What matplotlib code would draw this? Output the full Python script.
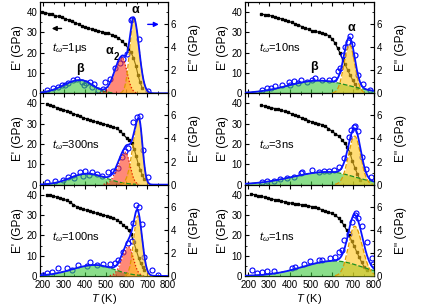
import numpy as np
import matplotlib.pyplot as plt
from matplotlib.ticker import MultipleLocator

plt.rcParams['font.family'] = ['Liberation Sans', 'DejaVu Sans']
plt.rcParams['mathtext.fontset'] = 'custom'
plt.rcParams['mathtext.rm'] = 'Liberation Sans'
plt.rcParams['mathtext.it'] = 'Liberation Sans:italic'
plt.rcParams['mathtext.bf'] = 'Liberation Sans:bold'

labels = ['1μs', '10ns', '300ns', '3ns', '100ns', '1ns']

# storage modulus E' (left axis)
T_e1_1us = [195, 210, 226, 242, 258, 274, 290, 306, 322, 338, 354, 370, 386, 402, 418, 434, 450,
            466, 482, 498, 514, 530, 546, 562, 578, 594, 610, 622, 634, 646, 656, 666, 676]
e1_1us = [40.0, 39.8, 39.3, 38.9, 38.3, 37.9, 37.4, 36.8, 36.1, 35.5, 34.8, 34.0, 33.2, 32.6, 32.0,
          31.6, 31.2, 30.8, 30.3, 29.9, 29.5, 28.9, 28.2, 27.3, 25.9, 24.2, 22.0, 20.2, 17.5, 13.5,
          9.0, 5.4, 2.6]
T_e1_10ns = [263, 280, 296, 312, 328, 344, 360, 376, 392, 408, 424, 440, 456, 472, 488, 504, 520,
             536, 552, 568, 584, 600, 614, 626, 638, 650, 662, 674, 686, 698, 710, 720]
e1_10ns = [39.0, 38.8, 38.5, 38.1, 37.6, 37.1, 36.6, 36.1, 35.5, 34.9, 34.3, 33.6, 32.9, 32.2, 31.5,
           30.9, 30.5, 30.1, 29.8, 29.3, 28.4, 26.9, 24.8, 22.4, 19.8, 16.8, 14.3, 11.6, 9.0, 6.6,
           4.4, 2.7]
T_e1_300ns = [217, 233, 249, 265, 281, 297, 313, 329, 345, 361, 377, 393, 409, 425, 441, 457, 473,
              489, 505, 521, 537, 553, 569, 585, 601, 615, 627, 637, 647, 657, 667, 677, 684]
e1_300ns = [39.6, 39.1, 38.6, 38.0, 37.5, 37.0, 36.3, 35.7, 35.0, 34.4, 33.7, 33.0, 32.4, 31.7, 31.2,
            30.9, 30.5, 30.0, 29.5, 29.0, 28.4, 27.8, 26.5, 24.8, 23.0, 22.0, 20.5, 17.8, 14.0,
            10.2, 7.3, 4.6, 3.0]
T_e1_3ns = [263, 279, 295, 311, 327, 343, 359, 375, 391, 407, 423, 439, 455, 471, 487, 503, 519,
            535, 551, 567, 583, 599, 615, 631, 647, 661, 673, 685, 697, 709, 721, 733]
e1_3ns = [39.1, 38.7, 38.3, 37.9, 37.5, 37.1, 36.6, 36.1, 35.6, 34.9, 34.3, 33.6, 32.9, 32.3, 31.6,
          30.9, 30.5, 30.1, 29.6, 28.8, 27.6, 26.4, 25.1, 24.0, 22.2, 20.3, 18.4, 15.8, 11.5, 8.3,
          5.2, 2.3]
T_e1_100ns = [217, 233, 249, 265, 281, 297, 313, 329, 345, 361, 377, 393, 409, 425, 441, 457, 473,
              489, 505, 521, 537, 553, 569, 585, 599, 611, 623, 635, 647, 659, 669, 679, 687]
e1_100ns = [40.1, 39.8, 39.4, 38.9, 38.4, 37.9, 37.2, 36.3, 35.2, 34.2, 33.5, 32.9, 32.4, 31.9, 31.4,
            30.9, 30.4, 30.0, 29.7, 29.3, 28.6, 27.7, 26.6, 25.2, 23.9, 22.5, 20.6, 16.8, 12.9, 8.9,
            6.2, 4.3, 2.8]
T_e1_1ns = [215, 231, 247, 263, 279, 295, 311, 327, 343, 359, 375, 391, 407, 423, 439, 455, 471,
            487, 503, 519, 535, 551, 567, 583, 599, 615, 631, 645, 657, 669, 681, 693, 705, 717,
            729, 741, 753, 765]
e1_1ns = [40.4, 40.0, 39.6, 39.2, 38.8, 38.4, 38.0, 37.6, 37.2, 36.8, 36.5, 36.2, 35.8, 35.5, 35.3,
          35.0, 34.8, 34.6, 34.2, 33.8, 33.3, 32.7, 32.1, 31.5, 30.8, 29.9, 28.6, 26.9, 24.9, 22.7,
          20.0, 17.4, 14.8, 12.0, 9.3, 6.8, 4.5, 2.7]

# loss modulus E'' (right axis), measured points
T_e2_1us = [217, 249, 270, 289, 305, 321, 345, 364, 385, 395, 406, 425, 435, 446, 465, 489, 497,
            521, 545, 569, 585, 602, 621, 628, 661, 705]
e2_1us = [0.32, 0.5, 0.55, 0.7, 0.75, 0.9, 1.13, 1.28, 0.98, 0.7, 0.9, 0.98, 0.55, 0.84, 0.32, 0.41,
          0.98, 1.28, 2.15, 2.58, 3.0, 3.37, 6.35, 6.45, 4.7, 0.2]
T_e2_10ns = [266, 290, 310, 330, 362, 396, 400, 417, 440, 454, 480, 505, 520, 552, 584, 608, 629,
             638, 654, 664, 678, 686, 695, 710, 726, 749, 781]
e2_10ns = [0.26, 0.5, 0.45, 0.6, 0.7, 0.98, 0.7, 1.07, 0.85, 1.19, 1.0, 1.13, 1.33, 1.13, 1.19,
           1.28, 1.94, 2.15, 3.3, 4.0, 4.46, 4.98, 4.3, 3.3, 1.57, 0.84, 0.32]
T_e2_300ns = [217, 257, 297, 321, 345, 350, 377, 390, 401, 420, 433, 457, 481, 513, 537, 561, 577,
              593, 609, 633, 649, 665, 678, 705]
e2_300ns = [0.26, 0.35, 0.4, 0.64, 0.87, 0.6, 1.07, 0.75, 1.16, 0.8, 1.07, 0.93, 0.78, 1.07, 1.22,
            1.4, 2.4, 2.9, 3.2, 5.4, 5.85, 5.97, 3.0, 0.7]
T_e2_3ns = [266, 290, 322, 353, 385, 417, 450, 457, 505, 537, 560, 584, 608, 632, 656, 680, 692,
            703, 711, 724, 743, 762, 787]
e2_3ns = [0.2, 0.35, 0.35, 0.5, 0.58, 0.7, 1.0, 1.07, 1.3, 1.07, 1.16, 1.22, 1.3, 1.5, 2.3, 4.1,
          4.75, 5.0, 5.1, 4.6, 2.37, 1.36, 0.64]
T_e2_100ns = [201, 220, 241, 273, 313, 337, 369, 409, 425, 457, 489, 521, 545, 561, 585, 609, 626,
              634, 646, 662, 674, 685, 721, 753]
e2_100ns = [0.1, 0.23, 0.38, 0.67, 0.66, 0.52, 0.96, 0.87, 1.19, 0.96, 1.04, 1.04, 1.16, 1.39, 2.1,
            2.84, 2.99, 4.58, 6.17, 5.97, 4.52, 1.68, 0.5, 0.1]
T_e2_1ns = [218, 242, 266, 290, 322, 409, 424, 465, 497, 537, 554, 592, 614, 632, 646, 656, 680,
            695, 711, 715, 726, 742, 766, 789, 794]
e2_1ns = [0.52, 0.29, 0.38, 0.46, 0.46, 0.67, 0.81, 1.04, 1.3, 1.39, 1.39, 1.54, 1.68, 2.1, 2.26,
          3.1, 3.6, 4.7, 5.3, 5.45, 5.0, 4.3, 2.98, 1.54, 1.0]

# fitted relaxation peaks: centre (K), height (GPa), left width, right width
beta_1us, alpha2_1us, alpha_1us = [378, 1.15, 80, 60], [578, 3.15, 35, 24], [636, 6.4, 20, 25]
beta_10ns, alpha_10ns = [535, 1.1, 145, 145], [683, 4.2, 26, 25]
beta_300ns, alpha2_300ns, alpha_300ns = [410, 0.95, 80, 90], [595, 2.8, 35, 22], [660, 5.7, 28, 17]
beta_3ns, alpha_3ns = [580, 1.1, 170, 128], [708, 4.2, 30, 28]
beta_100ns, alpha2_100ns, alpha_100ns = [450, 0.95, 110, 90], [609, 2.55, 30, 24], [655, 5.2, 20, 21]
beta_1ns, alpha_1ns = [610, 1.3, 150, 132], [708, 4.3, 30, 36]

panels = [
    (T_e1_1us, e1_1us, T_e2_1us, e2_1us, [('b', beta_1us), ('a2', alpha2_1us), ('a', alpha_1us)]),
    (T_e1_10ns, e1_10ns, T_e2_10ns, e2_10ns, [('b', beta_10ns), ('a', alpha_10ns)]),
    (T_e1_300ns, e1_300ns, T_e2_300ns, e2_300ns,
     [('b', beta_300ns), ('a2', alpha2_300ns), ('a', alpha_300ns)]),
    (T_e1_3ns, e1_3ns, T_e2_3ns, e2_3ns, [('b', beta_3ns), ('a', alpha_3ns)]),
    (T_e1_100ns, e1_100ns, T_e2_100ns, e2_100ns,
     [('b', beta_100ns), ('a2', alpha2_100ns), ('a', alpha_100ns)]),
    (T_e1_1ns, e1_1ns, T_e2_1ns, e2_1ns, [('b', beta_1ns), ('a', alpha_1ns)]),
]

peak_style = {'b': ('#3cc83c', '#1f8f1f', '--'),
              'a2': ('#ff3b1f', '#e01800', ':'),
              'a': ('#ffc61a', '#e09a00', '--')}


def peak(T, p):
    c, h, sl, sr = p
    s = np.where(T < c, sl, sr)
    return h * np.exp(-0.5 * ((T - c) / s) ** 2)


fig = plt.figure(figsize=(4.24, 3.08), dpi=100)
lefts = [40 / 424, 245 / 424]
widths = [128 / 424, 129 / 424]
h = 0.2965
Tg = np.linspace(185, 800, 500)

axes = []
for i, (T1, E1, T2, E2, pks) in enumerate(panels):
    row, col = divmod(i, 2)
    ax = fig.add_axes([lefts[col], 0.104 + (2 - row) * h, widths[col], h])
    ax2 = ax.twinx()
    axes.append((ax, ax2))

    ax.plot(T1, E1, color='black', marker='s', ms=2.0, lw=0.8)
    ax2.plot(T2, E2, ls='none', marker='o', ms=3.6, mfc='none', mec='#0000ff', mew=0.8, zorder=2)

    total = np.zeros_like(Tg)
    for kind, p in pks:
        g = peak(Tg, p)
        total += g
        fc, ec, ls = peak_style[kind]
        ax2.fill_between(Tg, 0, g, color=fc, alpha=0.6, lw=0, zorder=3)
        ax2.plot(Tg, np.where(g > 0.03, g, np.nan), color=ec, ls=ls, lw=0.9, zorder=4)
    ax2.plot(Tg, total, color='#0a14ff', lw=1.3, zorder=5)

    ax.set_xlim(185, 800)
    ax.set_ylim(0, 45)
    ax2.set_ylim(0, 7.9)
    ax.xaxis.set_major_locator(MultipleLocator(100))
    ax.xaxis.set_minor_locator(MultipleLocator(50))
    ax.yaxis.set_major_locator(MultipleLocator(10))
    ax.yaxis.set_minor_locator(MultipleLocator(5))
    ax2.yaxis.set_major_locator(MultipleLocator(2))
    ax2.yaxis.set_minor_locator(MultipleLocator(1))
    ax.tick_params(axis='x', which='both', direction='in', top=True, labelsize=7, pad=3)
    ax.tick_params(axis='x', which='major', length=3)
    ax.tick_params(axis='x', which='minor', length=1.5)
    ax.tick_params(axis='y', which='both', direction='in', labelsize=7, pad=2)
    ax.tick_params(axis='y', which='major', length=3)
    ax.tick_params(axis='y', which='minor', length=1.5)
    ax2.tick_params(axis='y', which='both', direction='in', labelsize=7, pad=2)
    ax2.tick_params(axis='y', which='major', length=3)
    ax2.tick_params(axis='y', which='minor', length=1.5)
    if row < 2:
        ax.tick_params(axis='x', labelbottom=False)
    else:
        ax.set_xlabel(r'$T$ (K)', fontsize=8, labelpad=1)
    ax.set_ylabel("E' (GPa)", fontsize=8.5, labelpad=2)
    ax2.set_ylabel("E'' (GPa)", fontsize=8.5, labelpad=9)
    for a in (ax, ax2):
        for s in a.spines.values():
            s.set_linewidth(0.8)

    ax.text(0.09 if col == 0 else 0.11, 0.5 if row == 0 else 0.43,
            r'$t_\omega$=' + labels[i], transform=ax.transAxes, fontsize=8, va='center')

# peak names and axis arrows
ax, ax2 = axes[0]
xt = ax.get_xaxis_transform()
ax.text(641, 0.91, 'α', transform=xt, fontsize=9, fontweight='bold', ha='center', va='center')
ax.text(519, 0.46, 'α', transform=xt, fontsize=9, fontweight='bold', ha='center', va='center')
ax.text(551, 0.40, '2', transform=xt, fontsize=7, fontweight='bold', ha='center', va='center')
ax.text(377, 0.27, 'β', transform=xt, fontsize=9, fontweight='bold', ha='center', va='center')
ax.annotate('', xy=(0.07, 0.71), xytext=(0.19, 0.71), xycoords='axes fraction',
            arrowprops=dict(arrowstyle='-|>', color='black', lw=1, mutation_scale=7))
ax.annotate('', xy=(0.95, 0.755), xytext=(0.82, 0.755), xycoords='axes fraction',
            arrowprops=dict(arrowstyle='-|>', color='#0000ff', lw=1, mutation_scale=7))

ax, ax2 = axes[1]
xt = ax.get_xaxis_transform()
ax.text(692, 0.71, 'α', transform=xt, fontsize=9, fontweight='bold', ha='center', va='center')
ax.text(513, 0.29, 'β', transform=xt, fontsize=9, fontweight='bold', ha='center', va='center')

fig.savefig('out.png', dpi=100)
